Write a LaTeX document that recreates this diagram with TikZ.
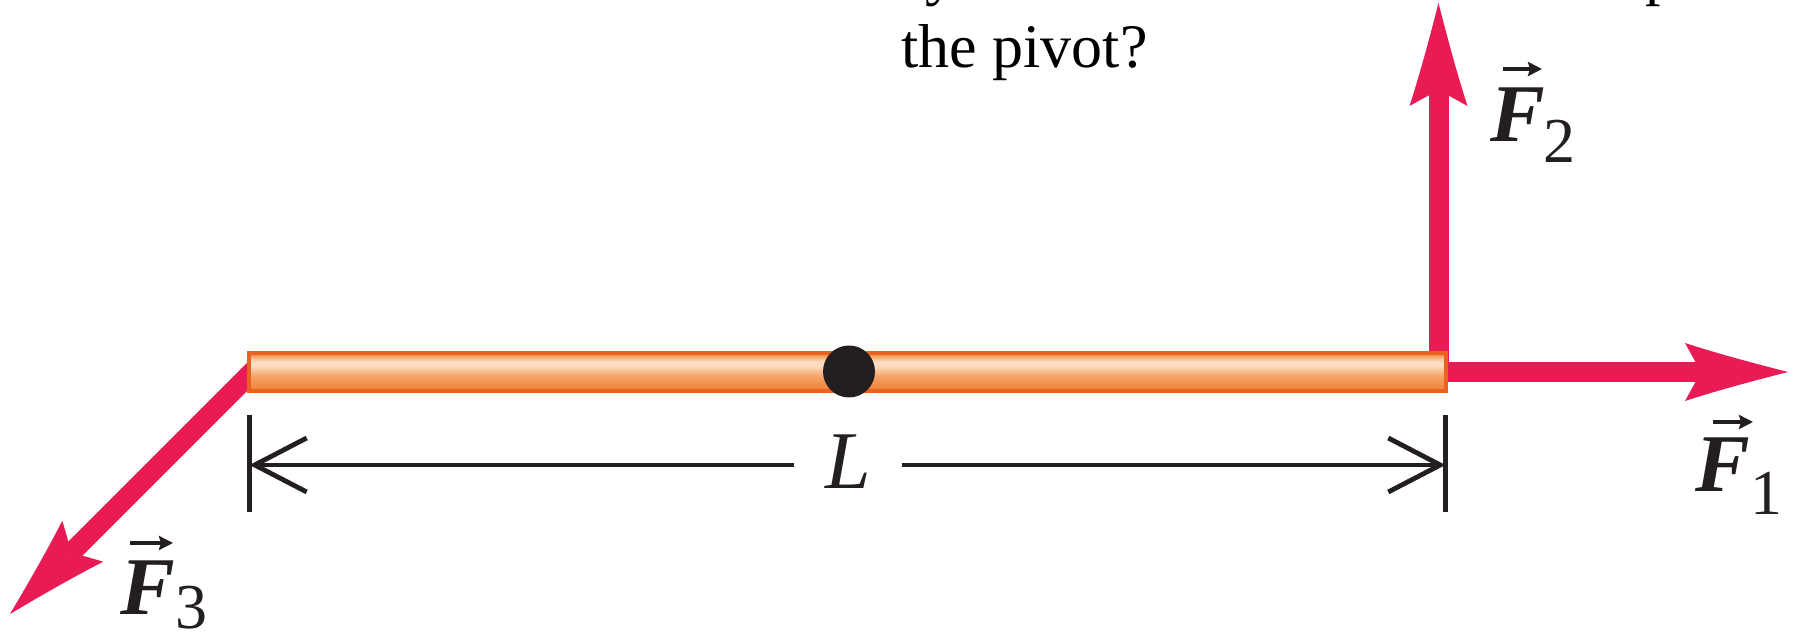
\documentclass[tikz,border=0pt]{standalone}
\usepackage{fontspec}
\setmainfont{Liberation Serif}
\usetikzlibrary{arrows.meta,calc}
\definecolor{forcered}{RGB}{233,27,84}
\definecolor{rodedge}{RGB}{232,98,32}
\definecolor{inkblack}{RGB}{35,31,32}
\definecolor{rodA}{RGB}{239,125,51}
\definecolor{rodB}{RGB}{246,164,104}
\definecolor{rodC}{RGB}{252,220,194}
\definecolor{rodD}{RGB}{243,154,85}
\definecolor{rodE}{RGB}{238,122,54}
\pgfdeclareverticalshading{rodshade}{100bp}{color(0bp)=(rodA); color(25bp)=(rodA); color(45bp)=(rodB); color(58bp)=(rodC); color(64bp)=(rodC); color(72bp)=(rodD); color(75bp)=(rodE); color(100bp)=(rodE)}
\pgfdeclarelayer{bg}
\pgfsetlayers{bg,main}
\newdimen\dartLa
\newdimen\dartLb
\newdimen\dartWa
\newdimen\dartWb
\newdimen\dartWc
\newdimen\dartN
\newdimen\dartE
\pgfdeclarearrow{
  name = Dart,
  defaults = { length = 51.5pt, width = 29pt, inset = 8pt },
  parameters = { \the\pgfarrowlength,\the\pgfarrowwidth,\the\pgfarrowinset },
  setup code = {
    \pgfarrowssettipend{0pt}
    \dartE=-\pgfarrowlength
    \advance\dartE by \pgfarrowinset
    \pgfarrowssetlineend{\dartE}
    \pgfarrowssetbackend{-\pgfarrowlength}
    \pgfarrowssavethe\pgfarrowlength
    \pgfarrowssavethe\pgfarrowwidth
    \pgfarrowssavethe\pgfarrowinset
  },
  drawing code = {
    \dartLa=-0.33\pgfarrowlength
    \dartLb=-0.67\pgfarrowlength
    \dartWa=0.15\pgfarrowwidth
    \dartWb=0.31\pgfarrowwidth
    \dartWc=0.5\pgfarrowwidth
    \dartN=-\pgfarrowlength
    \advance\dartN by \pgfarrowinset
    \pgfpathmoveto{\pgfqpoint{0pt}{0pt}}
    \pgfpathcurveto{\pgfqpoint{\dartLa}{\dartWa}}{\pgfqpoint{\dartLb}{\dartWb}}{\pgfqpoint{-\pgfarrowlength}{\dartWc}}
    \pgfpathlineto{\pgfqpoint{\dartN}{0pt}}
    \pgfpathlineto{\pgfqpoint{-\pgfarrowlength}{-\dartWc}}
    \pgfpathcurveto{\pgfqpoint{\dartLb}{-\dartWb}}{\pgfqpoint{\dartLa}{-\dartWa}}{\pgfqpoint{0pt}{0pt}}
    \pgfpathclose
    \pgfusepathqfill
  }
}
\tikzset{
  force/.style={line width=10pt, draw=forcered, fill=forcered, -{Dart[length=51.5pt, width=29pt, inset=8pt]}},
  rodbox/.style={rectangle, draw=rodedge, line width=2pt, shading=rodshade, minimum width=598.5pt, minimum height=19pt, inner sep=0pt, outer sep=0pt},
  pivotdot/.style={circle, fill=inkblack, minimum size=26pt, inner sep=0pt},
  tickline/.style={line width=2.4pt, draw=inkblack},
  dimline/.style={line width=2.4pt, draw=inkblack, -{Straight Barb[length=26pt, width=27pt]}},
  dimlabel/.style={font=\fontsize{41}{49}\selectfont\itshape, text=inkblack, inner sep=0pt, minimum width=53.5pt},
  flab/.style={font=\fontsize{41}{49}\selectfont\bfseries\itshape, text=inkblack, inner sep=0pt, anchor=base west},
  fsub/.style={font=\fontsize{32}{38}\selectfont, text=inkblack, inner sep=0pt, anchor=base west},
  vecarrow/.style={line width=1.6pt, draw=inkblack, -{Stealth[length=7pt, width=7pt, inset=1pt]}},
  qtext/.style={font=\fontsize{31}{37}\selectfont, text=black, inner sep=0pt, anchor=base west}
}
\begin{document}
\begin{tikzpicture}[x=0.5pt, y=-0.5pt]
\useasboundingbox (0,0) rectangle (1796,635);
% question text (last line) and descenders of the line above
\begin{scope}
  \clip (0,0) rectangle (1796,635);
  \node[qtext] (qy) at (925,-6) {y};
  \node[qtext] (qp) at (1645,-6) {p};
\end{scope}
\node[qtext] (q) at (901,68) {the pivot?};
% rod and pivot
\node[rodbox] (rod) at (847.5,372) {};
\node[pivotdot] (pivot) at (849,371.5) {};
% force tips
\coordinate (f1tip) at (1788,372);
\coordinate (f2tip) at (1438.5,3);
\coordinate (f3base) at (270,354);
\coordinate (f3tip) at (10,614);
\begin{pgfonlayer}{bg}
  \draw[force] (rod.east) -- (f1tip);
  \draw[force] ([xshift=-3.75pt]rod.east) -- (f2tip);
  \begin{scope}
    \clip (rod.north west) rectangle (0,640);
    \draw[force] (f3base) -- (f3tip);
  \end{scope}
\end{pgfonlayer}
% dimension L
\coordinate (tickLtop) at (249.5,415);
\coordinate (tickLbot) at (249.5,512);
\coordinate (tickRtop) at (1445.5,415);
\coordinate (tickRbot) at (1445.5,512);
\coordinate (dimL) at (249.5,465);
\coordinate (dimR) at (1445.5,465);
\draw[tickline] (tickLtop) -- (tickLbot);
\draw[tickline] (tickRtop) -- (tickRbot);
\node[dimlabel, anchor=base] (L) at (848,489) {L};
\draw[dimline] (L.west |- dimL) -- (dimL);
\draw[dimline] (L.east |- dimR) -- (dimR);
% force labels
\node[flab] (F1) at (1695,492) {F};
\node[fsub] (F1s) at ($(F1.base east)+(0,23)$) {1};
\draw[vecarrow] ($(F1.base west)+(18,-70)$) -- ($(F1.base west)+(58,-70)$);
\node[flab] (F2) at (1490,142) {F};
\node[fsub] (F2s) at ($(F2.base east)+(-2,21)$) {2};
\draw[vecarrow] ($(F2.base west)+(13,-73)$) -- ($(F2.base west)+(52,-73)$);
\node[flab] (F3) at (120,615) {F};
\node[fsub] (F3s) at ($(F3.base east)+(0,14)$) {3};
\draw[vecarrow] ($(F3.base west)+(10,-72)$) -- ($(F3.base west)+(53,-72)$);
\end{tikzpicture}
\end{document}
